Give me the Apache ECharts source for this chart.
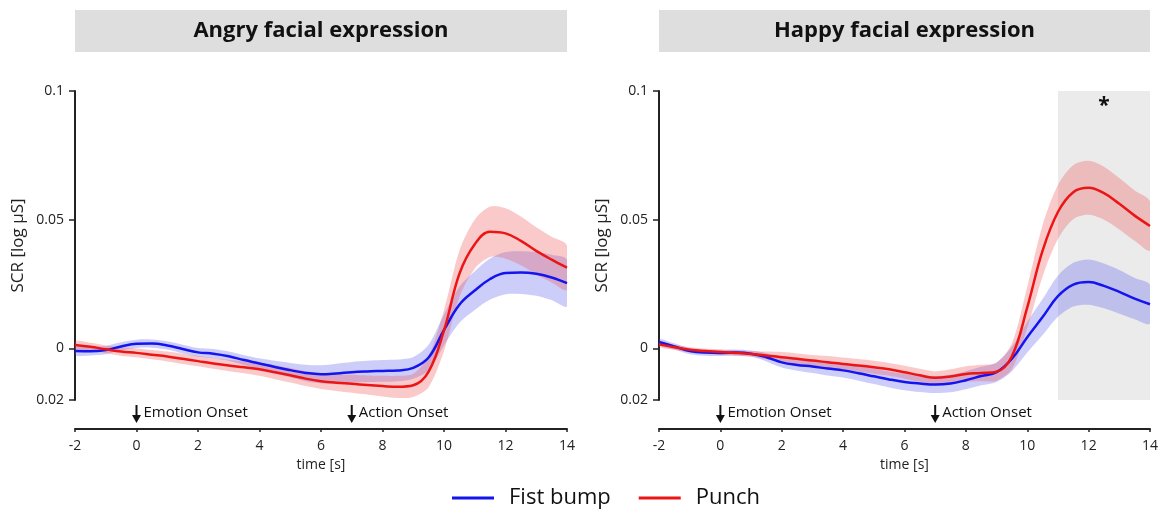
<!DOCTYPE html>
<html>
<head>
<meta charset="utf-8">
<script src="https://cdn.jsdelivr.net/npm/echarts@6/dist/echarts.min.js"></script>
<style>
    body { margin: 0; background: #fff; }
    #main { width: 1164px; height: 511px; }
</style>
</head>
<body>
<div id="main"></div>
<script>
// time points (s)
var time = [-2, -1.5, -1, -0.5, 0, 0.5, 1, 1.5, 2, 2.5, 3, 3.5, 4, 4.5, 5, 5.5, 6, 6.5,
            7, 7.5, 8, 8.5, 9, 9.5, 10, 10.5, 11, 11.5, 12, 12.5, 13, 13.5, 14];

// Angry facial expression
var angryFist = [-0.001, -0.0011, -0.0006, 0.0008, 0.0018, 0.0019, 0.0012, -0.0002, -0.0015, -0.002, -0.003, -0.0045,
                 -0.0058, -0.0072, -0.0084, -0.0095, -0.0100, -0.0097, -0.0092, -0.0089, -0.0087, -0.0085, -0.0075, -0.0035,
                 0.0072, 0.017, 0.0225, 0.027, 0.0293, 0.0295, 0.029, 0.0276, 0.0254];
var angryFistSem = [0.0016, 0.0016, 0.0016, 0.0016, 0.0016, 0.0016, 0.0016, 0.0017, 0.0017, 0.0018, 0.0018, 0.0019,
                    0.002, 0.0024, 0.0028, 0.0032, 0.0035, 0.0038, 0.004, 0.0041, 0.0042, 0.0042, 0.0042, 0.005,
                    0.006, 0.007, 0.0075, 0.008, 0.0082, 0.0083, 0.0085, 0.0088, 0.009];
var angryPunch = [0.0014, 0.0007, -0.0003, -0.0012, -0.0017, -0.0024, -0.0031, -0.004, -0.0049, -0.0058, -0.0066, -0.0073,
                  -0.0081, -0.0092, -0.0104, -0.0117, -0.0127, -0.0133, -0.0137, -0.0142, -0.0146, -0.0149, -0.0143, -0.009,
                  0.007, 0.029, 0.0405, 0.0453, 0.0447, 0.0418, 0.0379, 0.0345, 0.0314];
var angryPunchSem = [0.0015, 0.0015, 0.0015, 0.0016, 0.0017, 0.0018, 0.0019, 0.002, 0.002, 0.0021, 0.0022, 0.0023,
                     0.0025, 0.0027, 0.0028, 0.0029, 0.003, 0.0032, 0.0035, 0.0037, 0.004, 0.0043, 0.0045, 0.006,
                     0.008, 0.009, 0.0095, 0.0098, 0.0098, 0.0095, 0.0092, 0.0089, 0.0086];

// Happy facial expression
var happyFist = [0.0025, 0.0008, -0.001, -0.0016, -0.0017, -0.0016, -0.002, -0.0034, -0.0054, -0.0064, -0.007, -0.0078,
                 -0.0085, -0.0096, -0.0108, -0.012, -0.013, -0.0136, -0.014, -0.0136, -0.0123, -0.0107, -0.0092, -0.004,
                 0.0044, 0.0122, 0.0203, 0.0248, 0.0258, 0.0243, 0.022, 0.0194, 0.0172];
var happyFistSem = [0.0012, 0.0012, 0.0012, 0.0012, 0.0012, 0.0012, 0.0012, 0.0016, 0.002, 0.0022, 0.0025, 0.0027,
                    0.0028, 0.0029, 0.003, 0.0031, 0.0032, 0.0033, 0.0033, 0.0034, 0.0035, 0.0036, 0.0038, 0.0048,
                    0.006, 0.007, 0.008, 0.0085, 0.0088, 0.0087, 0.0085, 0.008, 0.0075];
var happyPunch = [0.0016, 0.0005, -0.0005, -0.001, -0.0014, -0.0017, -0.0021, -0.0027, -0.0034, -0.004, -0.0047, -0.0053,
                  -0.006, -0.0066, -0.0073, -0.0081, -0.0092, -0.0104, -0.0114, -0.0109, -0.0099, -0.0095, -0.009, -0.003,
                  0.016, 0.038, 0.053, 0.0607, 0.0624, 0.0603, 0.0562, 0.0516, 0.0476];
var happyPunchSem = [0.001, 0.001, 0.001, 0.001, 0.001, 0.001, 0.001, 0.0015, 0.002, 0.0021, 0.0022, 0.0024,
                     0.0025, 0.0025, 0.0025, 0.0025, 0.0025, 0.0025, 0.0025, 0.0028, 0.003, 0.0032, 0.0035, 0.005,
                     0.008, 0.01, 0.0105, 0.0105, 0.0105, 0.0103, 0.01, 0.0098, 0.0095];

var panelTitles = ['Angry facial expression', 'Happy facial expression'];
var seriesNames = ['Fist bump', 'Punch'];
var xTicks = { min: -2, max: 14, interval: 2 };
var yTickValues = [-0.02, 0, 0.05, 0.1];
var yTickLabels = ['0.02', '0', '0.05', '0.1'];
var onsets = [[0, 'Emotion Onset'], [7, 'Action Onset']];
var sigWindow = [11, 14];

var BLUE = '#1414ee';
var RED = '#ec1515';
var BLUE_BAND = 'rgba(90,90,240,0.3)';
var RED_BAND = 'rgba(240,80,80,0.3)';
var FONT = 'Open Sans';

var myChart = echarts.init(document.getElementById('main'));

function pairs(vals) {
    var res = [];
    for (var i = 0; i < time.length; i++) res.push([time[i], vals[i]]);
    return res;
}

// shaded mean +/- sem band, drawn as one polygon through the axes
function band(gi, mean, sem, color) {
    return {
        type: 'custom', xAxisIndex: gi, yAxisIndex: gi, silent: true, z: 2, clip: true,
        data: [[time[0], mean[0]]],
        renderItem: function (params, api) {
            var up = [], lo = [];
            for (var i = 0; i < time.length; i++) {
                up.push(api.coord([time[i], mean[i] + sem[i]]));
                lo.push(api.coord([time[i], mean[i] - sem[i]]));
            }
            return {
                type: 'polygon',
                shape: { points: up.concat(lo.reverse()), smooth: 0.3, smoothConstraint: false },
                style: { fill: color }
            };
        }
    };
}

function meanLine(gi, name, mean, color) {
    return {
        name: name, type: 'line', xAxisIndex: gi, yAxisIndex: gi, data: pairs(mean),
        smooth: 0.4, symbol: 'none', silent: true, z: 4,
        lineStyle: { color: color, width: 2.5 }, itemStyle: { color: color }
    };
}

var grids = [
    { left: 75, top: 91, width: 492, height: 309 },
    { left: 659, top: 91, width: 491, height: 309 }
];

var xAxes = [], yAxes = [];
for (var g = 0; g < 2; g++) {
    xAxes.push({
        type: 'value', gridIndex: g, min: xTicks.min, max: xTicks.max, interval: xTicks.interval,
        offset: 29, splitLine: { show: false },
        axisLine: { onZero: false, lineStyle: { color: '#222', width: 2 } },
        axisTick: { show: true, length: 3, lineStyle: { color: '#222', width: 1.5 } },
        axisLabel: { color: '#222', fontSize: 14, fontFamily: FONT, margin: 10 },
        name: 'time [s]', nameLocation: 'middle', nameGap: 28,
        nameTextStyle: { color: '#222', fontSize: 14, fontFamily: FONT }
    });
    yAxes.push({
        type: 'value', gridIndex: g, min: -0.02, max: 0.1, interval: 0.01,
        splitLine: { show: false },
        axisLine: { show: true, onZero: false, lineStyle: { color: '#222', width: 2 } },
        axisTick: { show: true, length: 6, customValues: yTickValues, lineStyle: { color: '#222', width: 1.5 } },
        axisLabel: {
            color: '#222', fontSize: 14, fontFamily: FONT, margin: 11, customValues: yTickValues,
            formatter: function (v) {
                for (var k = 0; k < yTickValues.length; k++) {
                    if (Math.abs(v - yTickValues[k]) < 1e-9) return yTickLabels[k];
                }
                return '';
            }
        },
        name: 'SCR [log µS]', nameLocation: 'middle', nameRotate: 90, nameGap: 48,
        nameTextStyle: { color: '#222', fontSize: 17, fontFamily: FONT }
    });
}

var series = [];
series.push(band(0, angryFist, angryFistSem, BLUE_BAND));
series.push(band(0, angryPunch, angryPunchSem, RED_BAND));
series.push(band(1, happyFist, happyFistSem, BLUE_BAND));
series.push(band(1, happyPunch, happyPunchSem, RED_BAND));
series.push(meanLine(0, seriesNames[0], angryFist, BLUE));
series.push(meanLine(0, seriesNames[1], angryPunch, RED));
var happyFistLine = meanLine(1, seriesNames[0], happyFist, BLUE);
happyFistLine.markArea = {
    silent: true, z: 1,
    itemStyle: { color: '#ebebeb' },
    label: { show: true, position: 'insideTop', distance: 5, formatter: '*', color: '#111',
        fontSize: 21, fontWeight: 'bold', fontFamily: FONT },
    data: [[{ xAxis: sigWindow[0], yAxis: -0.02 }, { xAxis: sigWindow[1], yAxis: 0.1 }]]
};
series.push(happyFistLine);
series.push(meanLine(1, seriesNames[1], happyPunch, RED));

var titleGraphics = [];
for (var p = 0; p < 2; p++) {
    titleGraphics.push({
        type: 'rect', left: grids[p].left, top: 10,
        shape: { width: grids[p].width, height: 42 }, style: { fill: '#dedede' }, silent: true
    });
    titleGraphics.push({
        type: 'text', x: grids[p].left + grids[p].width / 2, y: 31,
        style: { text: panelTitles[p], fill: '#111', font: 'bold 22px "' + FONT + '"',
            textAlign: 'center', textVerticalAlign: 'middle' }, silent: true
    });
}

var option = {
    animation: false,
    grid: grids,
    xAxis: xAxes,
    yAxis: yAxes,
    legend: {
        data: seriesNames, left: 452, top: 487, padding: 0, icon: 'rect', itemWidth: 42, itemHeight: 3, itemGap: 28,
        textStyle: { color: '#111', fontSize: 22, fontFamily: FONT, padding: [0, 0, 0, 10] }
    },
    graphic: titleGraphics,
    series: series
};

myChart.setOption(option);

// onset arrows below each panel, placed through the axes
var arrows = [];
for (var gi = 0; gi < 2; gi++) {
    for (var j = 0; j < onsets.length; j++) {
        var pt = myChart.convertToPixel({ gridIndex: gi }, [onsets[j][0], -0.02]);
        var x = pt[0], y0 = pt[1];
        arrows.push({ type: 'line', silent: true,
            shape: { x1: x, y1: y0 + 5, x2: x, y2: y0 + 17 }, style: { stroke: '#111', lineWidth: 2 } });
        arrows.push({ type: 'polygon', silent: true,
            shape: { points: [[x - 4.5, y0 + 15], [x + 4.5, y0 + 15], [x, y0 + 23]] }, style: { fill: '#111' } });
        arrows.push({ type: 'text', silent: true, x: x + 7, y: y0 + 13,
            style: { text: onsets[j][1], fill: '#111', font: '15px "' + FONT + '"', textVerticalAlign: 'middle' } });
    }
}
myChart.setOption({ graphic: titleGraphics.concat(arrows) });
</script>
</body>
</html>
